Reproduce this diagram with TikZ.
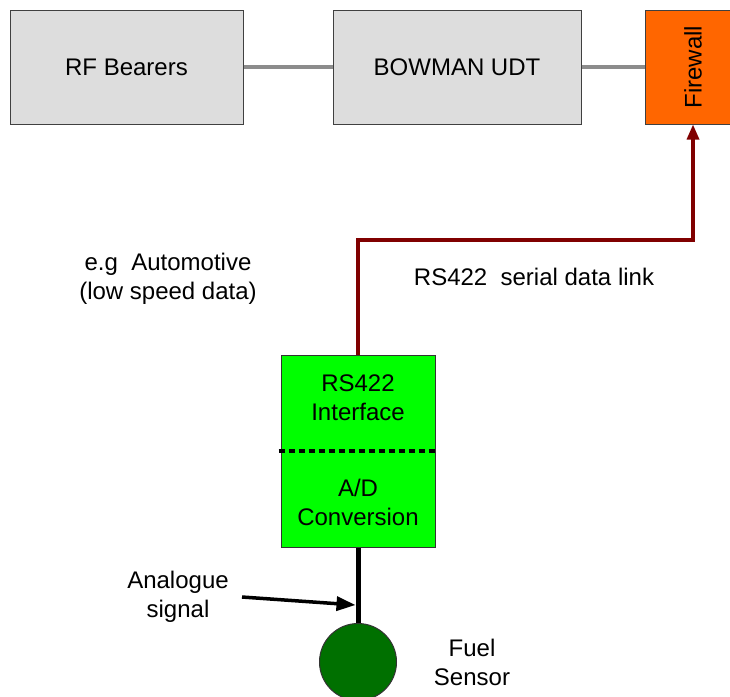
\documentclass[tikz,border=0pt]{standalone}
\usepackage{fontspec}
\setmainfont{Liberation Sans}
\usetikzlibrary{arrows.meta, positioning}

\definecolor{boxgray}{HTML}{DDDDDD}
\definecolor{fworange}{HTML}{FF6600}
\definecolor{unitgreen}{HTML}{00FF00}
\definecolor{sensorgreen}{HTML}{007000}
\definecolor{linkred}{HTML}{800000}
\definecolor{busgray}{HTML}{8C8C8C}

\begin{document}
\begin{tikzpicture}[x=1pt, y=-1pt, >=Stealth,
  every node/.style={font=\fontsize{24}{29}\selectfont, inner sep=0pt},
  graybox/.style={draw=black!75, line width=1pt, fill=boxgray, minimum height=114pt},
  bus/.style={draw=busgray, line width=3.5pt},
  link/.style={draw=linkred, line width=3.2pt, -{Triangle[length=15pt, width=12pt]}},
  wire/.style={draw=black, line width=5pt},
  divider/.style={draw=black, line width=3.5pt, dash pattern=on 6pt off 4pt}]
\useasboundingbox (0,0) rectangle (730,696);
\begin{scope}
\clip (0,0) rectangle (730,696);
% top row
\node[graybox, minimum width=233pt] (rf) at (126.5,67) {RF Bearers};
\node[graybox, minimum width=248pt] (udt) at (457,67) {BOWMAN UDT};
\node[graybox, fill=fworange, minimum width=96pt] (fw) at (693,67) {};
\node[rotate=90] (fwlabel) at (fw.center) {Firewall};
\draw[bus] (rf) -- (udt);
\draw[bus] (udt) -- (fw);

% interface unit
\node[draw=black!80, line width=1pt, fill=unitgreen, minimum width=154pt, minimum height=192pt] (unit) at (358,451) {};
\node[align=center] (iface) at (358,397.5) {RS422\\Interface};
\node[align=center] (adc) at (358,502.5) {A/D\\Conversion};
\draw[divider] ([xshift=-2pt]unit.west) -- ([xshift=2pt]unit.east);

% serial link to firewall
\coordinate (turn) at (358,240);
\draw[link] (unit.north) -- (turn) -| (fw.south);
\node (linklabel) at (534,277) {RS422\ \ serial data link};
\node[align=center] (auto) at (168,279) {e.g\ \ Automotive\\(low speed data)};

% sensor
\node[circle, draw=black!80, line width=1pt, fill=sensorgreen, minimum size=77pt] (sensor) at (358,662) {};
\draw[wire] (unit.south) -- (sensor.north);
\node[align=center] (fuel) at (472,662.5) {Fuel\\Sensor};
\node[align=center] (analog) at (178,596.5) {Analogue\\signal};
\coordinate (sigtail) at (242,597);
\coordinate (sigtip) at (355.5,605);
\draw[line width=3.5pt, -{Triangle[length=19pt, width=14pt]}] (sigtail) -- (sigtip);
\end{scope}
\end{tikzpicture}
\end{document}
